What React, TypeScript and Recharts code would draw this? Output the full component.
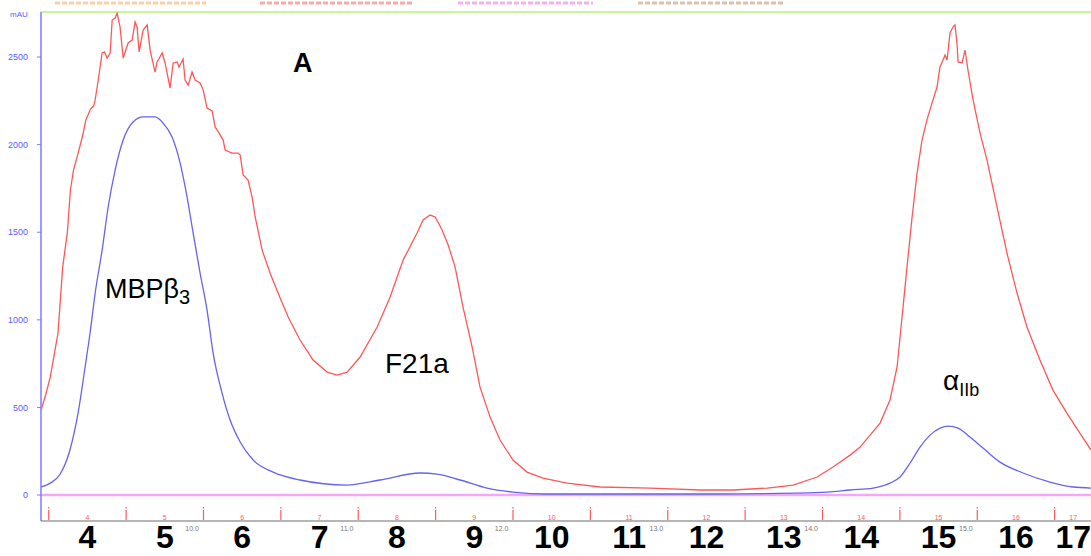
import React from "react";
import { LineChart, Line, XAxis, YAxis, ReferenceLine } from "recharts";

// elution volume (ml) vs absorbance (mAU)
const redTrace: [number, number][] = [
  [9.03, 485], [9.06, 571], [9.09, 674], [9.14, 925], [9.17, 1301], [9.2, 1496], [9.22, 1741],
  [9.24, 1855], [9.27, 1952], [9.3, 2055], [9.32, 2141], [9.35, 2203], [9.37, 2220], [9.38, 2255],
  [9.4, 2369], [9.425, 2523], [9.44, 2529], [9.457, 2494], [9.477, 2523], [9.49, 2711], [9.509, 2723],
  [9.522, 2751], [9.541, 2671], [9.561, 2494], [9.593, 2580], [9.619, 2597], [9.638, 2700], [9.651, 2671],
  [9.664, 2529], [9.69, 2654], [9.716, 2683], [9.735, 2540], [9.767, 2414], [9.78, 2472], [9.813, 2523],
  [9.832, 2466], [9.864, 2323], [9.884, 2466], [9.91, 2472], [9.922, 2443], [9.948, 2489], [9.961, 2369],
  [9.981, 2340], [10.006, 2414], [10.026, 2369], [10.058, 2352], [10.078, 2312], [10.103, 2209],
  [10.136, 2192], [10.155, 2101], [10.181, 2066], [10.207, 2026], [10.22, 1969], [10.265, 1952],
  [10.304, 1952], [10.317, 1941], [10.336, 1827], [10.368, 1798], [10.394, 1701], [10.414, 1587],
  [10.459, 1398], [10.51, 1267], [10.562, 1153], [10.627, 1016], [10.704, 885], [10.788, 771],
  [10.879, 702], [10.943, 685], [11.008, 702], [11.092, 788], [11.202, 959], [11.286, 1130],
  [11.37, 1341], [11.46, 1496], [11.499, 1570], [11.544, 1598], [11.577, 1587], [11.622, 1513],
  [11.661, 1427], [11.706, 1301], [11.757, 1073], [11.816, 845], [11.867, 616], [11.932, 445],
  [11.996, 314], [12.08, 200], [12.171, 131], [12.274, 97], [12.429, 68], [12.643, 46], [12.966, 40],
  [13.29, 29], [13.503, 29], [13.723, 40], [13.89, 57], [14.045, 103], [14.148, 160], [14.258, 228],
  [14.323, 274], [14.452, 411], [14.516, 542], [14.562, 731], [14.594, 1016], [14.626, 1301],
  [14.659, 1587], [14.691, 1838], [14.723, 2026], [14.755, 2141], [14.788, 2238], [14.82, 2329],
  [14.839, 2443], [14.859, 2483], [14.872, 2512], [14.885, 2483], [14.904, 2637], [14.923, 2671],
  [14.936, 2683], [14.949, 2580], [14.956, 2472], [14.982, 2466], [15.001, 2540], [15.02, 2426],
  [15.053, 2255], [15.098, 2066], [15.143, 1912], [15.208, 1644], [15.272, 1381], [15.337, 1153],
  [15.401, 959], [15.485, 771], [15.569, 599], [15.659, 468], [15.743, 354], [15.815, 257],
];

const blueTrace: [number, number][] = [
  [9.03, 46], [9.09, 68], [9.154, 120], [9.218, 260], [9.27, 470], [9.315, 731],
  [9.347, 925], [9.38, 1153], [9.425, 1398], [9.464, 1644], [9.509, 1855], [9.561, 2026],
  [9.625, 2129], [9.69, 2158], [9.767, 2158], [9.819, 2123], [9.877, 2043], [9.929, 1895],
  [9.974, 1701], [10.013, 1496], [10.058, 1267], [10.103, 1056], [10.142, 811], [10.2, 582],
  [10.252, 428], [10.317, 303], [10.401, 200], [10.53, 131], [10.704, 86], [11.008, 57],
  [11.221, 86], [11.48, 126], [11.589, 120], [11.738, 86], [11.912, 40], [12.08, 17], [12.3, 6],
  [12.727, 6], [13.373, 6], [13.915, 11], [14.109, 17], [14.258, 29], [14.407, 40], [14.516, 68],
  [14.581, 103], [14.646, 183], [14.71, 274], [14.775, 342], [14.839, 382], [14.891, 394],
  [14.956, 382], [15.033, 331], [15.117, 268], [15.227, 188], [15.376, 126], [15.55, 74],
  [15.699, 46], [15.815, 40],
];

const yTicks = [0, 500, 1000, 1500, 2000, 2500];
const mlMarks = [10, 11, 12, 13, 14, 15];
const fractionEdges = [9.08, 9.58, 10.08, 10.58, 11.08, 11.58, 12.08, 12.58, 13.08, 13.58, 14.08, 14.58, 15.08, 15.58];
const fractionCenters = [9.33, 9.83, 10.33, 10.83, 11.33, 11.83, 12.33, 12.83, 13.33, 13.83, 14.33, 14.83, 15.33, 15.7];
const fractionLabels = ["4", "5", "6", "7", "8", "9", "10", "11", "12", "13", "14", "15", "16", "17"];

const redData = redTrace.map(([ml, mau]) => ({ ml, mau }));
const blueData = blueTrace.map(([ml, mau]) => ({ ml, mau }));

const FONT = "'Liberation Sans', Arial, sans-serif";

function XTick(props: any) {
  const { x, y, payload } = props;
  const v = payload.value;
  if (fractionEdges.includes(v)) {
    return (
      <g>
        <line x1={x} x2={x} y1={y - 14} y2={y - 12.5} stroke="#ff5a5a" strokeWidth={1.2} />
        <line x1={x} x2={x} y1={y - 11} y2={y - 1} stroke="#ff5a5a" strokeWidth={1.2} />
      </g>
    );
  }
  const ci = fractionCenters.indexOf(v);
  if (ci >= 0) {
    return (
      <g>
        <text x={x} y={y - 1} textAnchor="middle" fontSize={7} fill="#ff5a5a" fontFamily={FONT}>
          {fractionLabels[ci]}
        </text>
        <text x={x} y={y + 27} textAnchor="middle" fontSize={32} fontWeight="bold" fill="#000" fontFamily={FONT}>
          {fractionLabels[ci]}
        </text>
      </g>
    );
  }
  if (mlMarks.includes(v)) {
    return (
      <text x={x + 1} y={y + 10} textAnchor="middle" fontSize={7} fill="#777" fontFamily={FONT}>
        {v.toFixed(1)}
      </text>
    );
  }
  return <g />;
}

export default function App() {
  const allTicks = [...fractionEdges, ...fractionCenters, ...mlMarks];
  return (
    <div style={{ position: "absolute", left: 0, top: 0, width: 1091, height: 556, background: "#fff" }}>
      <LineChart width={1091} height={556} margin={{ top: 12, right: 0, bottom: 0, left: 0 }}>
        <XAxis
          type="number"
          dataKey="ml"
          domain={[9.03, 15.815]}
          allowDataOverflow
          ticks={allTicks}
          interval={0}
          height={35}
          tickSize={0}
          tickMargin={0}
          tick={<XTick />}
          axisLine={{ stroke: "#b5b5b5", strokeWidth: 2 }}
        />
        <YAxis
          type="number"
          domain={[-148, 2757]}
          allowDataOverflow
          ticks={yTicks}
          width={41}
          tickSize={4}
          tickMargin={9}
          tick={{ fontSize: 9, fill: "#5a5aff", fontFamily: FONT }}
          tickLine={{ stroke: "#7b7bff" }}
          axisLine={{ stroke: "#7b7bff", strokeWidth: 1.5 }}
        />
        <ReferenceLine y={2757} stroke="#c8f59a" strokeWidth={2} />
        <ReferenceLine y={0} stroke="#f6a6f6" strokeWidth={2.5} />
        <Line data={redData} dataKey="mau" type="linear" stroke="#ff5757" strokeWidth={1.3} dot={false} isAnimationActive={false} />
        <Line data={blueData} dataKey="mau" type="monotone" stroke="#6464f2" strokeWidth={1.3} dot={false} isAnimationActive={false} />
      </LineChart>
      <svg width={1091} height={556} style={{ position: "absolute", left: 0, top: 0, pointerEvents: "none" }}>
        <line x1={55} x2={206} y1={3} y2={3} stroke="#ffb060" strokeWidth={3} strokeDasharray="5 2" opacity={0.6} />
        <line x1={260} x2={412} y1={3} y2={3} stroke="#ff7070" strokeWidth={3} strokeDasharray="5 2" opacity={0.6} />
        <line x1={458} x2={593} y1={3} y2={3} stroke="#f27af2" strokeWidth={3} strokeDasharray="5 2" opacity={0.6} />
        <line x1={638} x2={785} y1={3} y2={3} stroke="#c89a70" strokeWidth={3} strokeDasharray="5 2" opacity={0.6} />
        <text x={10} y={17} fontSize={8} fill="#5a5aff" fontFamily={FONT}>mAU</text>
        <text x={293} y={72} fontSize={27} fontWeight="bold" fill="#000" fontFamily={FONT}>A</text>
        <text x={105} y={298} fontSize={27} fill="#000" fontFamily={FONT}>
          MBPβ<tspan fontSize={20} dy={6}>3</tspan>
        </text>
        <text x={385} y={373} fontSize={28} fill="#000" fontFamily={FONT}>F21a</text>
        <text x={943} y={390} fontSize={28} fill="#000" fontFamily={FONT}>
          α<tspan fontSize={18} dy={6}>IIb</tspan>
        </text>
      </svg>
    </div>
  );
}
